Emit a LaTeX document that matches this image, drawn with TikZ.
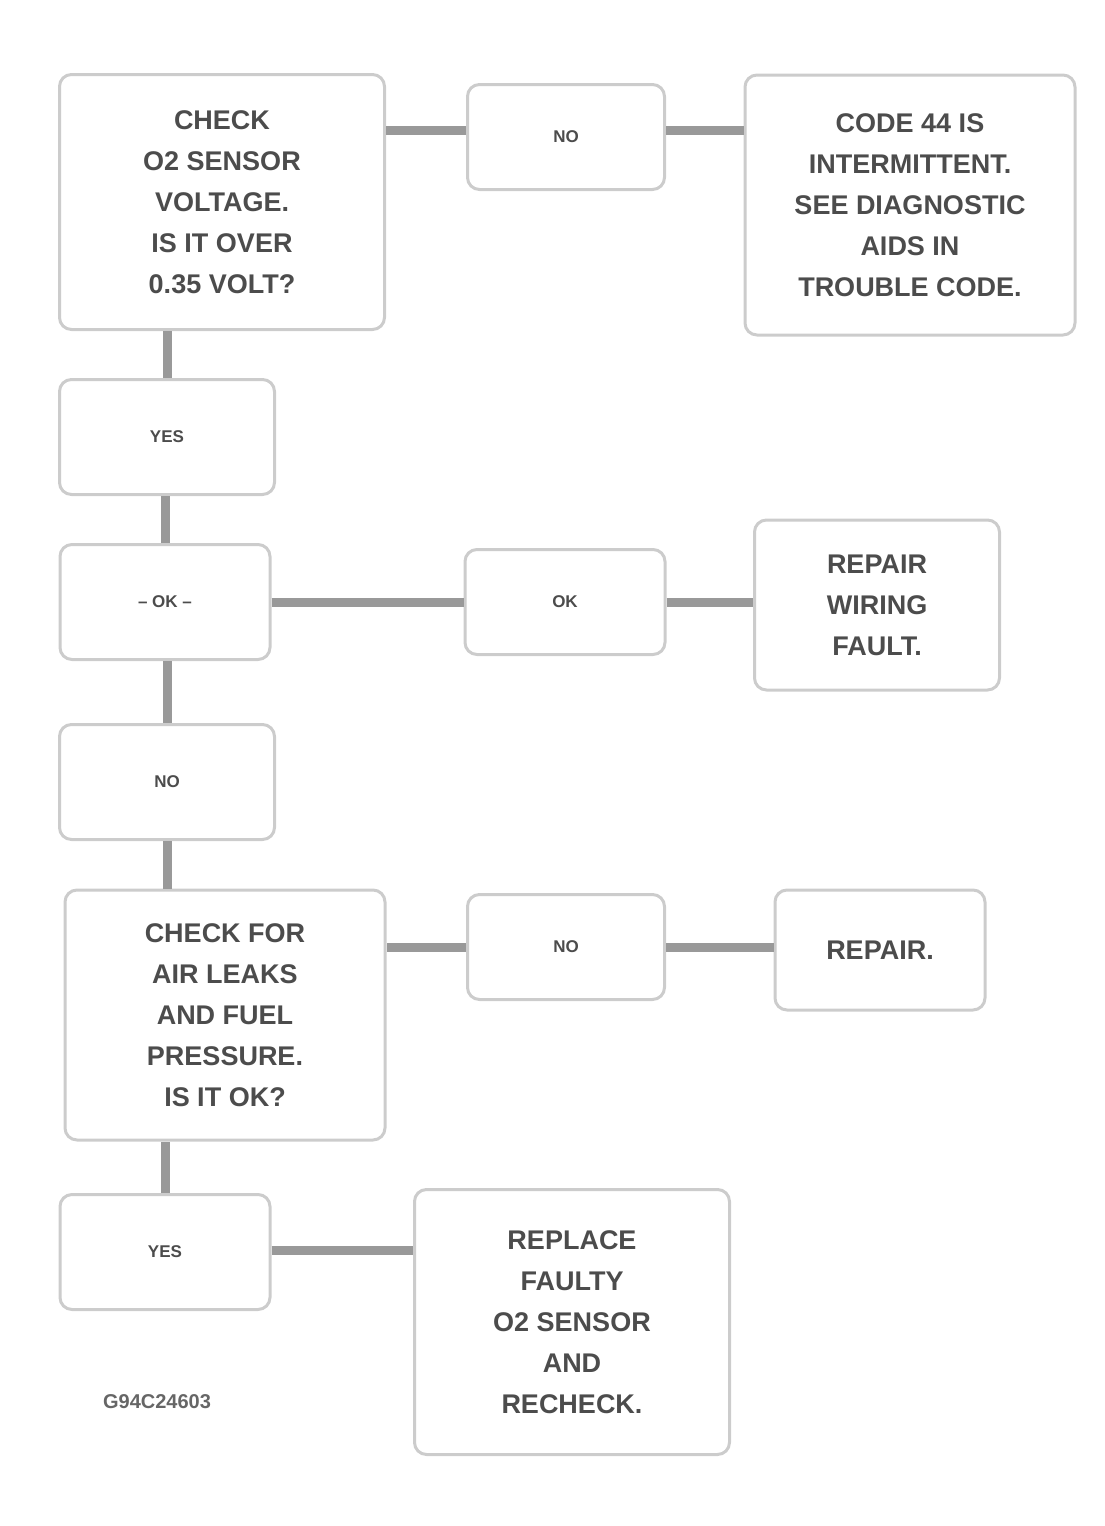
\documentclass[tikz,border=0pt]{standalone}
\usepackage{fontspec}
\setmainfont{Liberation Sans}
\begin{document}
\begin{tikzpicture}[x=1pt,y=-1pt,
  box/.style={draw=black!20, line width=3pt, rounded corners=12pt, fill=white,
    align=center, inner sep=0pt, text=black!70, font=\bfseries\fontsize{27}{41}\selectfont},
  tag/.style={box, font=\bfseries\fontsize{17}{20}\selectfont},
  conn/.style={draw=black!40, line width=9pt}]
\useasboundingbox (0,0) rectangle (1105,1526);
% left chain
\node[box, minimum width=325pt, minimum height=255pt] (A) at (222,202)
  {CHECK\\O2 SENSOR\\VOLTAGE.\\IS IT OVER\\0.35 VOLT?};
\node[tag, minimum width=215pt, minimum height=115pt] (D) at (167,437) {YES};
\node[tag, minimum width=210pt, minimum height=115pt] (E) at (165,602) {-- OK --};
\node[tag, minimum width=215pt, minimum height=115pt] (H) at (167,782) {NO};
\node[box, minimum width=320pt, minimum height=250pt] (I) at (225,1015)
  {CHECK FOR\\AIR LEAKS\\AND FUEL\\PRESSURE.\\IS IT OK?};
\node[tag, minimum width=210pt, minimum height=115pt] (L) at (165,1252) {YES};
% middle tags
\node[tag, minimum width=197pt, minimum height=105pt] (B) at (566,137) {NO};
\node[tag, minimum width=200pt, minimum height=105pt] (F) at (565,602) {OK};
\node[tag, minimum width=197pt, minimum height=105pt] (J) at (566,947) {NO};
% right boxes
\node[box, minimum width=330pt, minimum height=260pt] (C) at (910,205)
  {CODE 44 IS\\INTERMITTENT.\\SEE DIAGNOSTIC\\AIDS IN\\TROUBLE CODE.};
\node[box, minimum width=245pt, minimum height=170pt] (G) at (877,605)
  {REPAIR\\WIRING\\FAULT.};
\node[box, minimum width=210pt, minimum height=120pt] (K) at (880,950)
  {REPAIR.};
\node[box, minimum width=315pt, minimum height=265pt] (M) at (572,1322)
  {REPLACE\\FAULTY\\O2 SENSOR\\AND\\RECHECK.};
% figure id
\node[font=\bfseries\fontsize{20}{24}\selectfont, text=black!60] (id) at (157,1402) {G94C24603};
% connectors
\draw[conn] (B.west |- 0,130) -- (A.east |- 0,130);
\draw[conn] (B.east |- 0,130) -- (C.west |- 0,130);
\draw[conn] (D.north) -- (D.north |- A.south);
\draw[conn] (E.north) -- (E.north |- D.south);
\draw[conn] (E.east) -- (F.west);
\draw[conn] (F.east) -- (F.east -| G.west);
\draw[conn] (H.north) -- (H.north |- E.south);
\draw[conn] (H.south) -- (H.south |- I.north);
\draw[conn] (J.west) -- (J.west -| I.east);
\draw[conn] (J.east) -- (J.east -| K.west);
\draw[conn] (L.north) -- (L.north |- I.south);
\draw[conn] (L.east |- 0,1250) -- (M.west |- 0,1250);
\end{tikzpicture}
\end{document}
